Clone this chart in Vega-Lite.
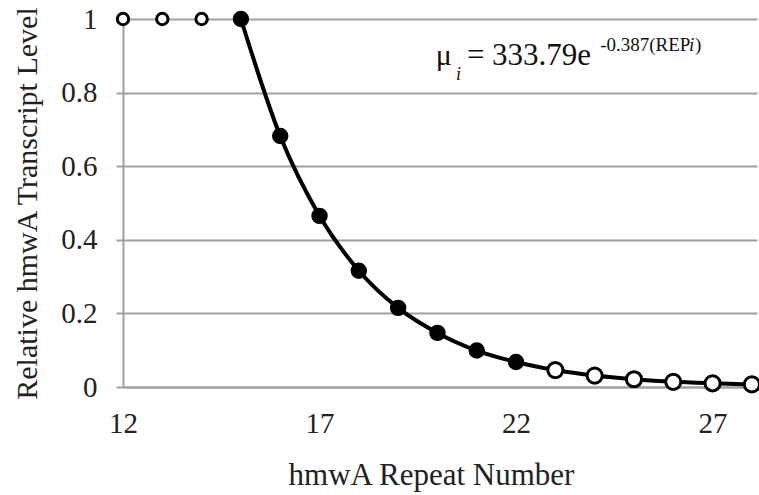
{
  "$schema": "https://vega.github.io/schema/vega-lite/v6.json",
  "width": 634,
  "height": 368,
  "autosize": {"type": "none"},
  "padding": {"left": 123, "top": 19, "right": 2, "bottom": 108},
  "background": "white",
  "config": {
    "font": "Liberation Serif",
    "view": {"stroke": null},
    "text": {"font": "Liberation Serif"},
    "axis": {
      "labelFont": "Liberation Serif",
      "titleFont": "Liberation Serif",
      "labelColor": "#222222",
      "titleColor": "#222222",
      "titleFontWeight": "normal",
      "labelFontSize": 29,
      "titleFontSize": 31
    }
  },
  "datasets": {
    "points": [
      {"rep": 12, "level": 1.0, "kind": "low"},
      {"rep": 13, "level": 1.0, "kind": "low"},
      {"rep": 14, "level": 1.0, "kind": "low"},
      {"rep": 15, "level": 1.0, "kind": "fitted"},
      {"rep": 16, "level": 0.682, "kind": "fitted"},
      {"rep": 17, "level": 0.465, "kind": "fitted"},
      {"rep": 18, "level": 0.316, "kind": "fitted"},
      {"rep": 19, "level": 0.215, "kind": "fitted"},
      {"rep": 20, "level": 0.147, "kind": "fitted"},
      {"rep": 21, "level": 0.099, "kind": "fitted"},
      {"rep": 22, "level": 0.068, "kind": "fitted"},
      {"rep": 23, "level": 0.046, "kind": "high"},
      {"rep": 24, "level": 0.031, "kind": "high"},
      {"rep": 25, "level": 0.021, "kind": "high"},
      {"rep": 26, "level": 0.014, "kind": "high"},
      {"rep": 27, "level": 0.010, "kind": "high"},
      {"rep": 28, "level": 0.007, "kind": "high"}
    ],
    "one": [{}]
  },
  "data": {"name": "points"},
  "layer": [
    {
      "transform": [{"filter": "datum.rep >= 15"}],
      "mark": {"type": "line", "color": "black", "strokeWidth": 4, "interpolate": "monotone", "clip": false},
      "encoding": {
        "x": {
          "field": "rep", "type": "quantitative",
          "scale": {"domain": [12, 28.13], "nice": false, "zero": false},
          "axis": {
            "values": [12, 17, 22, 27],
            "title": "hmwA Repeat Number",
            "grid": false,
            "ticks": false,
            "domainColor": "#a0a0a0",
            "domainWidth": 2,
            "labelPadding": 22,
            "titlePadding": 22,
            "titleX": 308,
            "labelFlush": false
          }
        },
        "y": {
          "field": "level", "type": "quantitative",
          "scale": {"domain": [0, 1], "nice": false},
          "axis": {
            "values": [0, 0.2, 0.4, 0.6, 0.8, 1],
            "format": "~g",
            "title": "Relative hmwA Transcript Level",
            "titleFontSize": 30,
            "grid": true,
            "gridColor": "#a0a0a0",
            "gridWidth": 2,
            "gridOpacity": 1,
            "ticks": true,
            "tickSize": 7,
            "tickColor": "#a0a0a0",
            "tickWidth": 2,
            "domainColor": "#a0a0a0",
            "domainWidth": 2,
            "labelPadding": 19,
            "titlePadding": 18,
            "labelFlush": false
          }
        }
      }
    },
    {
      "mark": {"type": "point", "shape": "circle", "strokeWidth": 3, "stroke": "black", "opacity": 1, "filled": true, "clip": false},
      "encoding": {
        "x": {"field": "rep", "type": "quantitative"},
        "y": {"field": "level", "type": "quantitative"},
        "fill": {
          "field": "kind", "type": "nominal",
          "scale": {"domain": ["low", "fitted", "high"], "range": ["white", "black", "white"]},
          "legend": null
        },
        "size": {
          "field": "kind", "type": "nominal",
          "scale": {"domain": ["low", "fitted", "high"], "range": [130, 230, 254]},
          "legend": null
        }
      }
    },
    {
      "data": {"name": "one"},
      "mark": {"type": "text", "text": "μ", "font": "Liberation Serif", "fontSize": 30, "align": "left", "baseline": "alphabetic", "color": "#111111"},
      "encoding": {"x": {"datum": 19.96}, "y": {"datum": 0.875}}
    },
    {
      "data": {"name": "one"},
      "mark": {"type": "text", "text": "i", "font": "Liberation Serif", "fontSize": 18, "fontStyle": "italic", "align": "left", "baseline": "alphabetic", "color": "#111111"},
      "encoding": {"x": {"datum": 20.47}, "y": {"datum": 0.834}}
    },
    {
      "data": {"name": "one"},
      "mark": {"type": "text", "text": "=", "font": "Liberation Serif", "fontSize": 31, "align": "left", "baseline": "alphabetic", "color": "#111111"},
      "encoding": {"x": {"datum": 20.75}, "y": {"datum": 0.875}}
    },
    {
      "data": {"name": "one"},
      "mark": {"type": "text", "text": "333.79e", "font": "Liberation Serif", "fontSize": 31, "align": "left", "baseline": "alphabetic", "color": "#111111"},
      "encoding": {"x": {"datum": 21.39}, "y": {"datum": 0.875}}
    },
    {
      "data": {"name": "one"},
      "mark": {"type": "text", "text": "-0.387(REP", "font": "Liberation Serif", "fontSize": 19, "align": "left", "baseline": "alphabetic", "color": "#111111"},
      "encoding": {"x": {"datum": 24.14}, "y": {"datum": 0.913}}
    },
    {
      "data": {"name": "one"},
      "mark": {"type": "text", "text": "i", "font": "Liberation Serif", "fontSize": 19, "fontStyle": "italic", "align": "left", "baseline": "alphabetic", "color": "#111111"},
      "encoding": {"x": {"datum": 26.40}, "y": {"datum": 0.913}}
    },
    {
      "data": {"name": "one"},
      "mark": {"type": "text", "text": ")", "font": "Liberation Serif", "fontSize": 19, "align": "left", "baseline": "alphabetic", "color": "#111111"},
      "encoding": {"x": {"datum": 26.55}, "y": {"datum": 0.913}}
    }
  ]
}
